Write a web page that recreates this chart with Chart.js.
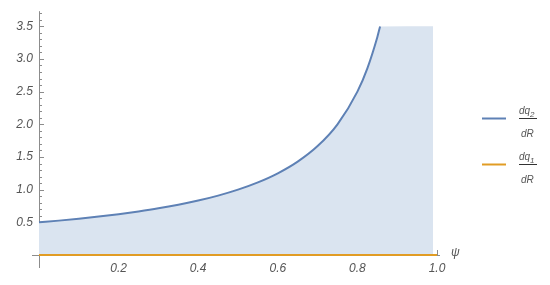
<!DOCTYPE html>
<html>
<head>
<meta charset="utf-8">
<script src="https://cdn.jsdelivr.net/npm/chart.js@4"></script>
<style>
  html, body { margin: 0; padding: 0; background: #fff; }
  #wrap { width: 550px; height: 285px; position: relative; }
</style>
</head>
<body>
<div id="wrap"><canvas id="plot"></canvas></div>
<script>
// valores
const psi = [0, 0.05, 0.1, 0.15, 0.2, 0.25, 0.3, 0.35, 0.4, 0.45, 0.5, 0.55, 0.6, 0.65, 0.7, 0.75, 0.8, 0.825, 0.85, 0.857];
const dq2 = [0.500, 0.526, 0.556, 0.588, 0.625, 0.667, 0.714, 0.769, 0.833, 0.909, 1.000, 1.111, 1.250, 1.429, 1.667, 2.000, 2.500, 2.857, 3.333, 3.497];
const dq1Psi = [0, 1];
const dq1 = [0, 0];
const capPsi = [0.99];
const capVal = [3.5];
const xTickLabels = ['0.2', '0.4', '0.6', '0.8', '1.0'];
const yTickLabels = ['0.5', '1.0', '1.5', '2.0', '2.5', '3.0', '3.5'];
const seriesNames = [['dq', '2', 'dR'], ['dq', '1', 'dR']];

const BLUE = '#5e81b5';
const ORANGE = '#e19c24';
const FILL = '#dae4f0';
const AXIS = '#8c8c8c';
const TXT = '#555555';
const FAMILY = '"Liberation Sans", Arial, sans-serif';

const pts = (xs, ys) => xs.map((x, i) => ({ x, y: ys[i] }));

// ejes al estilo Mathematica: ticks hacia dentro, menores más cortos
const axesPlugin = {
  id: 'axesPlugin',
  beforeDatasetsDraw(chart) {
    const { ctx, chartArea: a, scales: { x, y } } = chart;
    const y0 = y.getPixelForValue(0);
    ctx.save();
    ctx.strokeStyle = AXIS;
    ctx.lineWidth = 1;
    ctx.beginPath();
    ctx.moveTo(a.left + 0.5, a.top - 2);
    ctx.lineTo(a.left + 0.5, y0 + 13);
    ctx.moveTo(a.left - 7, y0 + 0.5);
    ctx.lineTo(a.right + 3, y0 + 0.5);
    y.ticks.forEach(t => {
      const py = Math.round(y.getPixelForValue(t.value)) + 0.5;
      if (t.value === 0) { ctx.moveTo(a.left - 5, py); ctx.lineTo(a.left, py); return; }
      const len = t.label ? 5 : 3;
      ctx.moveTo(a.left, py);
      ctx.lineTo(a.left + len, py);
    });
    x.ticks.forEach(t => {
      if (t.value === 0) return;
      const px = Math.round(x.getPixelForValue(t.value)) + 0.5;
      const len = t.label ? 5 : 3;
      ctx.moveTo(px, y0);
      ctx.lineTo(px, y0 - len);
    });
    ctx.stroke();
    ctx.restore();
  },
  afterDraw(chart) {
    const { ctx, chartArea: a, scales: { y } } = chart;
    const y0 = y.getPixelForValue(0);
    ctx.save();
    ctx.fillStyle = TXT;
    ctx.font = 'italic 12px ' + FAMILY;
    ctx.textBaseline = 'middle';
    ctx.fillText('ψ', a.right + 14, y0 - 2);

    // leyenda con fracciones
    const colors = [BLUE, ORANGE];
    const rows = [118, 164];
    seriesNames.forEach((n, i) => {
      const cy = rows[i];
      ctx.strokeStyle = colors[i];
      ctx.lineWidth = 2;
      ctx.beginPath();
      ctx.moveTo(482, cy + 0.5);
      ctx.lineTo(506, cy + 0.5);
      ctx.stroke();

      ctx.fillStyle = TXT;
      ctx.font = 'italic 10px ' + FAMILY;
      ctx.textBaseline = 'alphabetic';
      ctx.textAlign = 'left';
      const w1 = ctx.measureText(n[0]).width;
      ctx.fillText(n[0], 519, cy - 4);
      ctx.font = 'italic 8px ' + FAMILY;
      ctx.fillText(n[1], 519 + w1, cy - 1);
      ctx.strokeStyle = '#333';
      ctx.lineWidth = 1;
      ctx.beginPath();
      ctx.moveTo(519, cy + 0.5);
      ctx.lineTo(537, cy + 0.5);
      ctx.stroke();
      ctx.font = 'italic 10px ' + FAMILY;
      ctx.fillText(n[2], 521, cy + 19);
    });
    ctx.restore();
  }
};

new Chart(document.getElementById('plot').getContext('2d'), {
  type: 'line',
  data: {
    datasets: [
      {
        // zona sombreada: bajo la curva y hasta el tope 3.5 después
        label: 'region',
        data: pts(psi.concat(capPsi), dq2.concat(capVal)),
        borderWidth: 0,
        borderColor: 'transparent',
        backgroundColor: FILL,
        fill: 'origin',
        pointRadius: 0,
        cubicInterpolationMode: 'monotone',
        order: 3
      },
      {
        label: 'dq2/dR',
        data: pts(psi, dq2),
        borderColor: BLUE,
        borderWidth: 2,
        fill: false,
        pointRadius: 0,
        cubicInterpolationMode: 'monotone',
        clip: 4,
        order: 2
      },
      {
        label: 'dq1/dR',
        data: pts(dq1Psi, dq1),
        borderColor: ORANGE,
        borderWidth: 2,
        fill: false,
        pointRadius: 0,
        clip: 4,
        order: 1
      }
    ]
  },
  options: {
    responsive: true,
    maintainAspectRatio: false,
    animation: false,
    layout: { padding: { top: 13, right: 113, left: 0, bottom: 0 } },
    plugins: {
      legend: { display: false },
      tooltip: { enabled: false }
    },
    scales: {
      x: {
        type: 'linear',
        min: 0,
        max: 1,
        grid: { display: false, drawTicks: false },
        border: { display: false },
        afterFit: s => { s.height = 30; },
        ticks: {
          stepSize: 0.05,
          autoSkip: false,
          maxRotation: 0,
          padding: 6,
          color: TXT,
          font: { family: FAMILY, size: 12, style: 'italic' },
          callback: v => {
            const k = Math.round(v * 20);
            return (k > 0 && k % 4 === 0) ? xTickLabels[k / 4 - 1] : '';
          }
        }
      },
      y: {
        type: 'linear',
        min: 0,
        max: 3.7,
        grid: { display: false, drawTicks: false },
        border: { display: false },
        afterFit: s => { s.width = 39; },
        ticks: {
          stepSize: 0.1,
          autoSkip: false,
          padding: 6,
          color: TXT,
          font: { family: FAMILY, size: 12, style: 'italic' },
          callback: v => {
            const k = Math.round(v * 10);
            return (k > 0 && k % 5 === 0) ? yTickLabels[k / 5 - 1] : '';
          }
        }
      }
    }
  },
  plugins: [axesPlugin]
});
</script>
</body>
</html>
